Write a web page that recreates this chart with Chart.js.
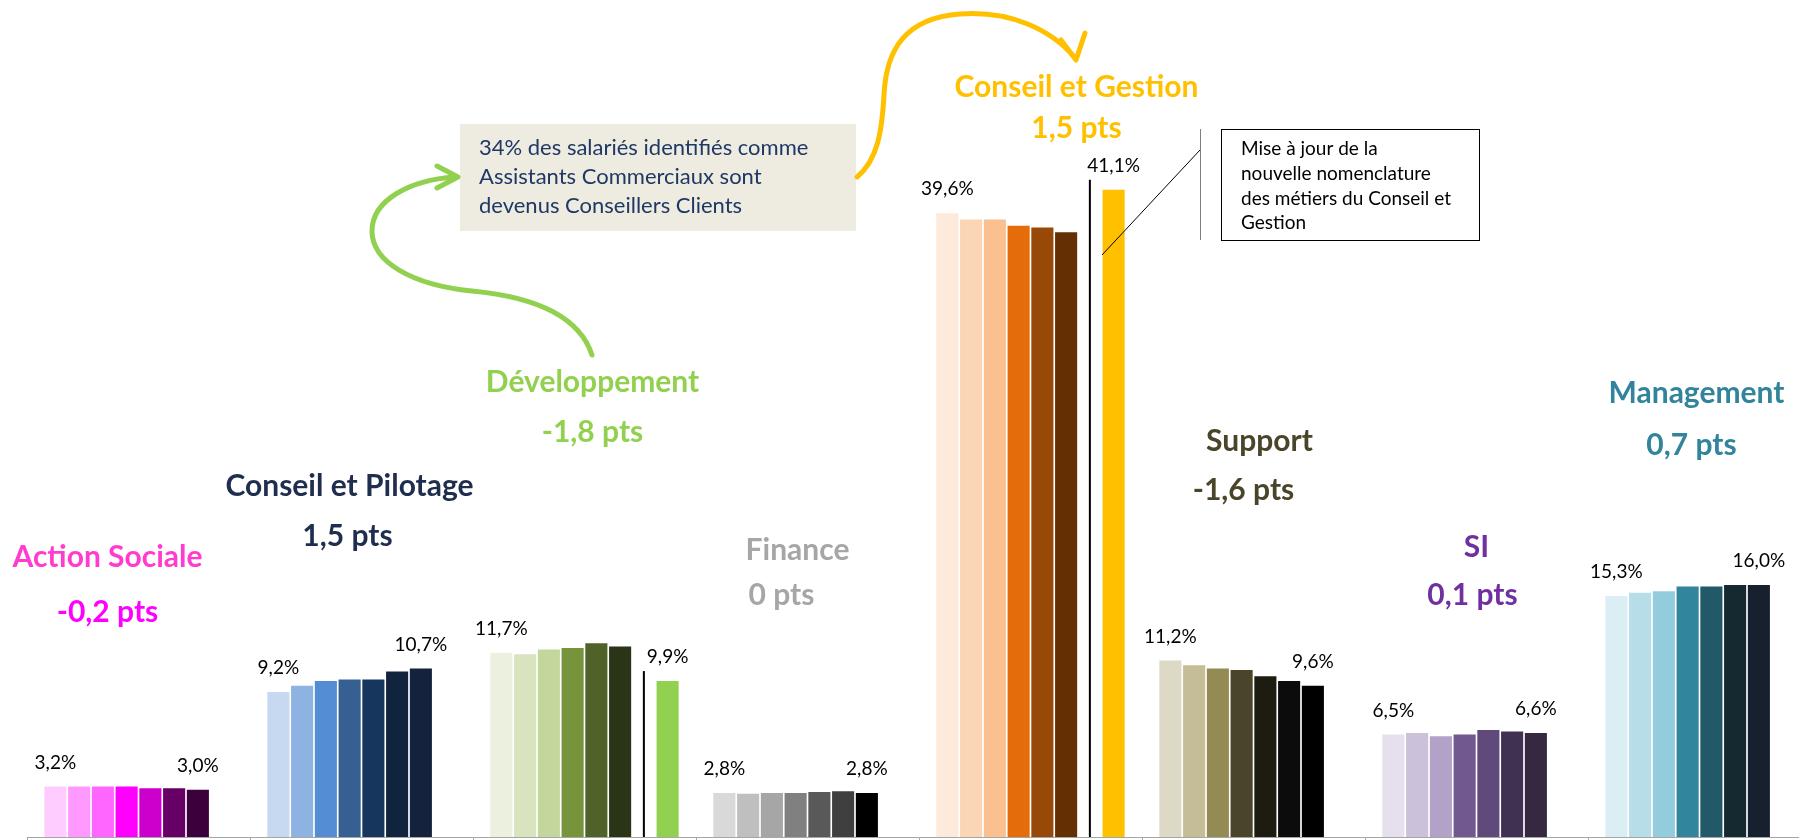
<!DOCTYPE html>
<html lang="fr">
<head>
<meta charset="utf-8">
<title>Répartition des salariés par famille de métiers</title>
<script src="https://cdn.jsdelivr.net/npm/chart.js@4.4.0/dist/chart.umd.min.js"></script>
<style>
  html, body { margin: 0; padding: 0; background: #fff; overflow: hidden; }
  #conteneur { position: relative; width: 1830px; height: 840px; }
</style>
</head>
<body>
<div id="conteneur"><canvas id="diagramme"></canvas></div>
<script>
// Familles de métiers
const categories = ['Action Sociale', 'Conseil et Pilotage', 'Développement', 'Finance',
  'Conseil et Gestion', 'Support', 'SI', 'Management'];
// Evolution affichée sous chaque famille
const evolutions = ['-0,2 pts', '1,5 pts', '-1,8 pts', '0 pts', '1,5 pts', '-1,6 pts', '0,1 pts', '0,7 pts'];

// Part des salariés (en %), une série par année
const annee1 = [3.2, 9.2, 11.7, 2.8, 39.6, 11.2, 6.5, 15.3];
const annee2 = [3.2, 9.6, 11.6, 2.75, 39.2, 10.9, 6.6, 15.5];
const annee3 = [3.2, 9.9, 11.9, 2.8, 39.2, 10.7, 6.4, 15.6];
const annee4 = [3.2, 10.0, 12.0, 2.8, 38.8, 10.6, 6.5, 15.9];
const annee5 = [3.1, 10.0, 12.3, 2.85, 38.7, 10.2, 6.8, 15.9];
const annee6 = [3.1, 10.5, 12.1, 2.9, 38.4, 9.9, 6.7, 16.0];
const annee7 = [3.0, 10.7, null, 2.8, null, 9.6, 6.6, 16.0];
// Dernière année selon la nouvelle nomenclature
const nouvelleNomenclature = [null, null, 9.9, null, 41.1, null, null, null];

const series = [annee1, annee2, annee3, annee4, annee5, annee6, annee7, nouvelleNomenclature];

// Couleurs : un dégradé par famille
const palettes = [
  ['#FFCCFF', '#FF99FF', '#FF66FF', '#FF00FF', '#CC00CC', '#660066', '#3C003C'],
  ['#C6D9F0', '#8DB3E2', '#548DD4', '#366092', '#17365D', '#10243E', '#14223D'],
  ['#EBF1DE', '#D7E4BD', '#C3D69B', '#77933C', '#4F6228', '#2A3517', '#2A3517'],
  ['#D9D9D9', '#BFBFBF', '#A6A6A6', '#808080', '#595959', '#3F3F3F', '#000000'],
  ['#FDEADA', '#FCD5B5', '#FAC090', '#E46C0A', '#984807', '#652F04', '#652F04'],
  ['#DDD9C4', '#C4BD97', '#948A54', '#4A452A', '#1E1C11', '#0C0C0C', '#000000'],
  ['#E6E0EC', '#CCC1DA', '#B3A2C7', '#71588F', '#604A7B', '#403152', '#352840'],
  ['#DBEEF4', '#B7DEE8', '#93CDDD', '#31859C', '#215968', '#142A30', '#16202E']
];
const couleursNouvelle = ['#000', '#000', '#92D050', '#000', '#FFC000', '#000', '#000', '#000'];

// Titres des familles : couleur et placement (décalage par rapport au centre de la catégorie)
const stylesTitres = [
  { couleur: '#FF3CCF', couleurEvol: '#FF00FF', dx: -31, y: 557, dxEvol: -31, yEvol: 612 },
  { couleur: '#1F2D4F', couleurEvol: '#1F2D4F', dx: -12, y: 486, dxEvol: -14, yEvol: 536 },
  { couleur: '#92D050', couleurEvol: '#92D050', dx: 8, y: 382, dxEvol: 8, yEvol: 432 },
  { couleur: '#A6A6A6', couleurEvol: '#A6A6A6', dx: -10, y: 550, dxEvol: -26, yEvol: 595 },
  { couleur: '#FFC000', couleurEvol: '#FFC000', dx: 46, y: 87, dxEvol: 46, yEvol: 128 },
  { couleur: '#4A452A', couleurEvol: '#4A452A', dx: 6, y: 441, dxEvol: -10, yEvol: 490 },
  { couleur: '#7030A0', couleurEvol: '#7030A0', dx: 0, y: 547, dxEvol: -4, yEvol: 595 },
  { couleur: '#31849B', couleurEvol: '#31849B', dx: -3, y: 393, dxEvol: -8, yEvol: 445 }
];

const police = 'Lato, "Open Sans", sans-serif';

function formaterPourcentage(v) {
  return v.toFixed(1).replace('.', ',') + '%';
}

// Dessine une flèche courbe (suite de courbes de Bézier) avec une pointe en chevron
function dessinerFleche(ctx, couleur, depart, courbes, pointe) {
  ctx.save();
  ctx.strokeStyle = couleur;
  ctx.lineWidth = 5;
  ctx.lineCap = 'round';
  ctx.lineJoin = 'round';
  ctx.beginPath();
  ctx.moveTo(depart[0], depart[1]);
  courbes.forEach(c => ctx.bezierCurveTo(c[0], c[1], c[2], c[3], c[4], c[5]));
  ctx.stroke();
  ctx.beginPath();
  ctx.moveTo(pointe[0][0], pointe[0][1]);
  ctx.lineTo(pointe[1][0], pointe[1][1]);
  ctx.lineTo(pointe[2][0], pointe[2][1]);
  ctx.stroke();
  ctx.restore();
}

const pluginAnnotations = {
  id: 'annotations',
  afterDatasetsDraw(chart) {
    const ctx = chart.ctx;
    const xScale = chart.scales.x;
    const metas = series.map((s, i) => chart.getDatasetMeta(i));
    const derniere = series.length - 1;

    ctx.save();
    categories.forEach((cat, i) => {
      // Trait vertical de rupture de nomenclature
      if (nouvelleNomenclature[i] !== null) {
        const barre = metas[derniere].data[i];
        const xTrait = (metas[5].data[i].x + barre.x) / 2;
        ctx.strokeStyle = '#000';
        ctx.lineWidth = 2;
        ctx.beginPath();
        ctx.moveTo(xTrait, barre.y - 10);
        ctx.lineTo(xTrait, chart.chartArea.bottom);
        ctx.stroke();
      }

      // Valeurs de la première et de la dernière année
      ctx.fillStyle = '#000';
      ctx.font = '19px ' + police;
      ctx.textAlign = 'center';
      ctx.textBaseline = 'middle';
      const premiere = metas[0].data[i];
      ctx.fillText(formaterPourcentage(annee1[i]), premiere.x, premiere.y - 24);
      const idxFin = nouvelleNomenclature[i] !== null ? derniere : 6;
      const fin = metas[idxFin].data[i];
      ctx.fillText(formaterPourcentage(series[idxFin][i]), fin.x, fin.y - 24);

      // Titre de la famille et évolution
      const st = stylesTitres[i];
      const xc = xScale.getPixelForValue(i);
      ctx.font = 'bold 30px ' + police;
      ctx.fillStyle = st.couleur;
      ctx.fillText(cat, xc + st.dx, st.y);
      ctx.fillStyle = st.couleurEvol;
      ctx.fillText(evolutions[i], xc + st.dxEvol, st.yEvol);
    });
    ctx.restore();

    // Encadré beige
    ctx.save();
    ctx.fillStyle = '#EEEBE0';
    ctx.fillRect(460, 124, 396, 107);
    ctx.fillStyle = '#1F3864';
    ctx.font = '22px ' + police;
    ctx.textAlign = 'left';
    ctx.textBaseline = 'middle';
    ['34% des salariés identifiés comme', 'Assistants Commerciaux sont', 'devenus Conseillers Clients']
      .forEach((ligne, k) => ctx.fillText(ligne, 479, 148 + k * 29));
    ctx.restore();

    // Flèche verte : Développement -> encadré
    dessinerFleche(ctx, '#92D050', [592, 355],
      [[578, 312, 525, 296, 472, 291], [412, 285, 372, 262, 372, 231], [372, 200, 410, 180, 455, 177]],
      [[437, 166], [458, 177], [437, 188]]);

    // Flèche jaune : encadré -> Conseil et Gestion
    dessinerFleche(ctx, '#FFC000', [857, 177],
      [[878, 160, 882, 130, 884, 95], [886, 50, 905, 18, 960, 14], [1010, 10, 1052, 30, 1075, 58]],
      [[1061, 40], [1076, 60], [1085, 33]]);

    // Bulle "Mise à jour..."
    ctx.save();
    ctx.strokeStyle = '#7F7F7F';
    ctx.lineWidth = 1;
    ctx.beginPath();
    ctx.moveTo(1200.5, 129);
    ctx.lineTo(1200.5, 240);
    ctx.stroke();
    ctx.strokeStyle = '#000';
    ctx.beginPath();
    ctx.moveTo(1200, 150);
    ctx.lineTo(1102, 255);
    ctx.stroke();
    ctx.fillStyle = '#fff';
    ctx.fillRect(1221, 129, 258, 111);
    ctx.strokeRect(1221.5, 129.5, 258, 111);
    ctx.fillStyle = '#000';
    ctx.font = '19px ' + police;
    ctx.textAlign = 'left';
    ctx.textBaseline = 'middle';
    ['Mise à jour de la', 'nouvelle nomenclature', 'des métiers du Conseil et', 'Gestion']
      .forEach((ligne, k) => ctx.fillText(ligne, 1241, 149 + k * 24.7));
    ctx.restore();
  }
};

const data = {
  labels: categories,
  datasets: series.map((valeurs, s) => ({
    label: s < 7 ? 'Année ' + (s + 1) : 'Nouvelle nomenclature',
    data: valeurs,
    backgroundColor: categories.map((c, i) => s < 7 ? palettes[i][s] : couleursNouvelle[i]),
    borderWidth: 0,
    categoryPercentage: 0.852,
    barPercentage: 0.93
  }))
};

new Chart(document.getElementById('diagramme'), {
  type: 'bar',
  data: data,
  options: {
    responsive: true,
    maintainAspectRatio: false,
    animation: false,
    layout: { padding: { left: 27, right: 19, top: 0, bottom: 0 } },
    plugins: { legend: { display: false }, tooltip: { enabled: false } },
    scales: {
      x: {
        offset: true,
        grid: { offset: true, drawOnChartArea: false, drawTicks: true, tickLength: 3, color: '#A6A6A6' },
        border: { color: '#A6A6A6', width: 1 },
        ticks: { display: false }
      },
      y: { display: false, min: 0, max: 53.14 }
    }
  },
  plugins: [pluginAnnotations]
});
</script>
</body>
</html>
